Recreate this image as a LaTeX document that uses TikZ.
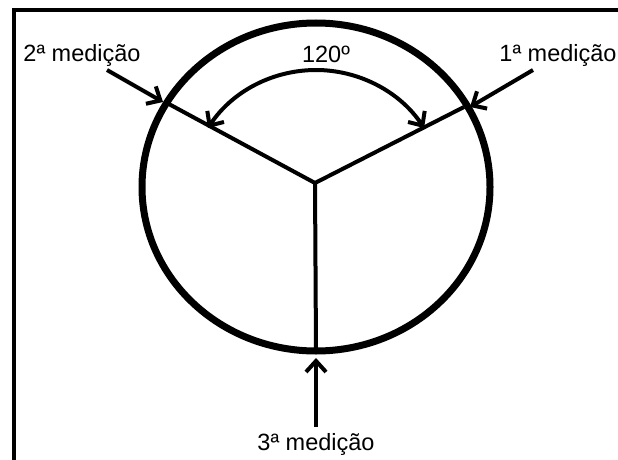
\documentclass[tikz,border=0pt]{standalone}
\usepackage{fontspec}
\setmainfont{Liberation Sans}
\usetikzlibrary{arrows.meta}
\begin{document}
\begin{tikzpicture}[x=1pt,y=-1pt,
  lbl/.style={font=\fontsize{23.5}{28}\selectfont, anchor=base, inner sep=0pt},
  spoke/.style={line width=4pt},
  meas/.style={line width=4pt, -{Straight Barb[length=11pt,width=20pt,line width=4pt]}},
  rim/.style={line width=7pt}]
\useasboundingbox (0,0) rectangle (618,460);
\fill[white] (0,0) rectangle (618,460);
% frame (left and top edges)
\draw[line width=4pt] (13.5,461) -- (13.5,10.5) -- (619,10.5);
% points
\coordinate (hub) at (315,183);
\coordinate (sl) at (167,103);
\coordinate (sr) at (464,107);
\coordinate (sb) at (316,351);
\coordinate (ac) at (316,199.6);
% spokes
\draw[spoke] (hub) -- (sl);
\draw[spoke] (hub) -- (sr);
\draw[spoke] (hub) -- (sb);
% rim
\draw[rim] (316,187) ellipse [x radius=174, y radius=164];
% labels
\node[lbl] (m2) at (82,62) {2ª medição};
\node[lbl] (m1) at (558,62) {1ª medição};
\node[lbl] (m3) at (316,450) {3ª medição};
\node[lbl] (ang) at (326,63) {120º};
% measurement arrows
\coordinate (a2s) at (107,70);
\coordinate (a2e) at (163,102);
\coordinate (a1s) at (533,70);
\coordinate (a1e) at (470,107);
\coordinate (a3s) at (316,427);
\coordinate (a3e) at (316,358);
\draw[meas] (a2s) -- (a2e);
\draw[meas] (a1s) -- (a1e);
\draw[meas] (a3s) -- (a3e);
% 120 degree arc
\draw[line width=4pt, {Straight Barb[length=11pt,width=20pt,line width=4pt]}-{Straight Barb[length=11pt,width=20pt,line width=4pt]}]
  (ac) ++({129.6*cos(146.5)},{-129.6*sin(146.5)}) arc[start angle=-146.5, end angle=-33.5, radius=129.6];
\end{tikzpicture}
\end{document}
